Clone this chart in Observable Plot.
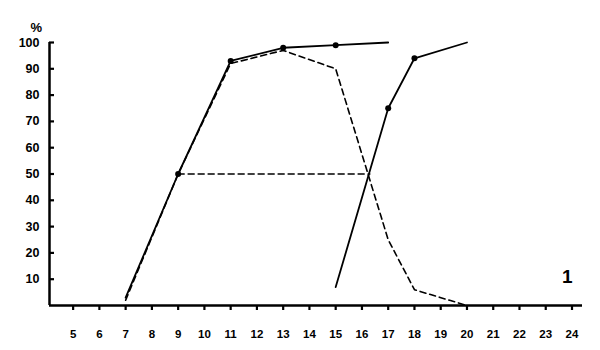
<!DOCTYPE html>
<html>
<head>
<meta charset="utf-8">
<script src="https://cdn.jsdelivr.net/npm/d3@7"></script>
<script src="https://cdn.jsdelivr.net/npm/@observablehq/plot@0.6"></script>
<style>
  html, body { margin: 0; padding: 0; background: #fff; }
  svg { display: block; }
</style>
</head>
<body>
<script>
// Tick labels
const xTicks = [5, 6, 7, 8, 9, 10, 11, 12, 13, 14, 15, 16, 17, 18, 19, 20, 21, 22, 23, 24];
const yTicks = [10, 20, 30, 40, 50, 60, 70, 80, 90, 100];

// Solid rising curve (left)
const riseAX = [7, 9, 11, 13, 15, 17];
const riseAY = [3, 50, 93, 98, 99, 100];
const riseADots = [1, 2, 3, 4]; // indices with dots

// Dashed curve (rise then fall)
const dashX = [7, 9, 11, 13, 15, 17, 18, 20];
const dashY = [2, 50, 92, 97, 90, 25, 6, 0];

// Solid rising curve (right)
const riseBX = [15, 17, 18, 20];
const riseBY = [7, 75, 94, 100];
const riseBDots = [1, 2];

// Horizontal dashed line at 50 %
const halfX = [9, 16.3];
const halfY = [50, 50];

const panelLabel = "1";
const unitLabel = "%";

const xDomain = [4.1, 24.4];
const yDomain = [0, 100];

const toPts = (xs, ys) => xs.map((x, i) => ({x, y: ys[i]}));
const A = toPts(riseAX, riseAY);
const D = toPts(dashX, dashY);
const B = toPts(riseBX, riseBY);
const H = toPts(halfX, halfY);
const dots = [...riseADots.map(i => A[i]), ...riseBDots.map(i => B[i])];

const chart = Plot.plot({
  width: 600,
  height: 350,
  marginLeft: 49,
  marginRight: 18,
  marginTop: 42,
  marginBottom: 45,
  style: {fontFamily: "'Liberation Sans', Arial, sans-serif", fontWeight: "bold", fontSize: "12px", background: "#fff", color: "#000"},
  x: {domain: xDomain},
  y: {domain: yDomain},
  marks: [
    Plot.axisX({ticks: xTicks, tickSize: 5, tickPadding: 19, label: null, fontWeight: "bold", fontSize: 11.5, strokeWidth: 2.2, stroke: "black"}),
    Plot.axisY({ticks: yTicks, tickSize: 0, tickPadding: 10, label: null, fontWeight: "bold", fontSize: 12.5}),
    Plot.tickY(yTicks, {y: d => d, strokeWidth: 2.2, insetRight: 528}),
    // axis lines
    Plot.ruleY([0], {x1: xDomain[0], x2: xDomain[1], strokeWidth: 2.5}),
    Plot.ruleX([xDomain[0]], {y1: yDomain[0], y2: yDomain[1], strokeWidth: 2.5}),
    Plot.line(D, {x: "x", y: "y", strokeWidth: 1.6, strokeDasharray: "6,4"}),
    Plot.line(H, {x: "x", y: "y", strokeWidth: 1.6, strokeDasharray: "6,4"}),
    Plot.line(A, {x: "x", y: "y", strokeWidth: 1.8}),
    Plot.line(B, {x: "x", y: "y", strokeWidth: 1.8}),
    Plot.dot(dots, {x: "x", y: "y", r: 3, fill: "#000", stroke: "none"}),
    Plot.text([unitLabel], {frameAnchor: "top-left", dx: -19, dy: -20, fontSize: 13, fontWeight: "bold"}),
    Plot.text([panelLabel], {frameAnchor: "bottom-right", dx: -10, dy: -23, fontSize: 19, fontWeight: "bold"})
  ]
});
document.body.appendChild(chart);
</script>
</body>
</html>
